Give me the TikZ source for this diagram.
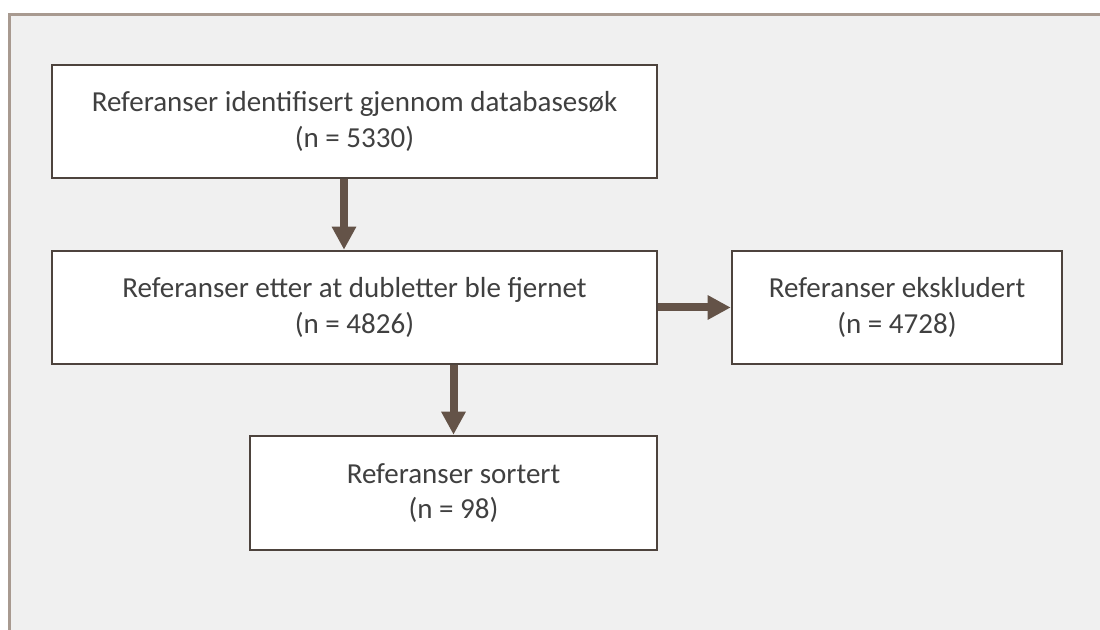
\documentclass[tikz,border=0pt]{standalone}
\usepackage{fontspec}
\setmainfont{Carlito}
\usetikzlibrary{arrows.meta}
\definecolor{framec}{HTML}{A89A90}
\definecolor{bg}{HTML}{F0F0F0}
\definecolor{boxc}{HTML}{4D433D}
\definecolor{arrc}{HTML}{645348}
\definecolor{txt}{HTML}{404040}
\begin{document}
\begin{tikzpicture}[x=0.75pt,y=-0.75pt,
  fbox/.style={draw=boxc, line width=1.9pt, fill=white, text=txt, align=center,
    font=\fontsize{21.75}{26.5}\selectfont, inner sep=0pt},
  arr/.style={draw=arrc, line width=6pt, -{Triangle[width=17.25pt,length=17.25pt]}}]
\useasboundingbox (0,0) rectangle (1100,630);
\clip (0,0) rectangle (1100,630);
\fill[white] (0,0) rectangle (1100,630);
\draw[draw=framec, fill=bg, line width=1.9pt] (9.5,14.5) rectangle (1120,650);
\node[fbox, minimum width=453.75pt, minimum height=84.75pt] (b1) at (354.5,121.5)
  {Referanser identifisert gjennom databasesøk\\(n = 5330)};
\node[fbox, minimum width=453.75pt, minimum height=84.75pt] (b2) at (354.5,307.5)
  {Referanser etter at dubletter ble fjernet\\(n = 4826)};
\node[fbox, minimum width=247.5pt, minimum height=84.75pt] (b3) at (897,307.5)
  {Referanser ekskludert\\(n = 4728)};
\node[fbox, minimum width=305.25pt, minimum height=85.5pt] (b4) at (453.5,493)
  {Referanser sortert\\(n = 98)};
\draw[arr] ([xshift=-7.875pt]b1.south) -- ([xshift=-7.875pt]b2.north);
\draw[arr] (b2.south -| b4.north) -- (b4.north);
\draw[arr] (b2.east) -- (b3.west);
\end{tikzpicture}
\end{document}
